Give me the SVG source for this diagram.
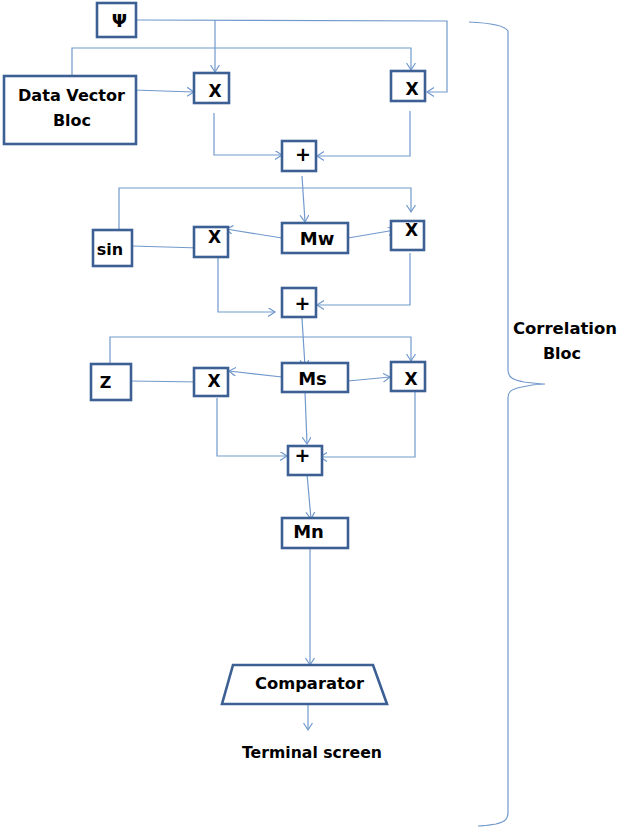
<svg xmlns="http://www.w3.org/2000/svg" width="617" height="828" viewBox="0 0 617 828">
<style>
.box{fill:#fff;stroke:#3c6094;stroke-width:2.6}
.t{font-family:"DejaVu Sans",Verdana,sans-serif;font-weight:bold;fill:#000;text-anchor:middle}
.c{fill:none;stroke:#7199cc;stroke-width:1.2}
.ca{fill:none;stroke:#7199cc;stroke-width:1.2;marker-end:url(#ah)}
</style>
<defs>
<marker id="ah" markerUnits="userSpaceOnUse" markerWidth="10" markerHeight="10" refX="7" refY="4.5" orient="auto">
<path d="M0,0 L7,4.5 L0,9" fill="none" stroke="#7199cc" stroke-width="1.2"/>
</marker>
</defs>
<g id="connectors">
<path class="ca" d="M136,20 L447,21 L447,92 L427,92"/>
<path class="ca" d="M215,20 L215,72"/>
<path class="ca" d="M72,76 L72,48 L411,48 L411,70"/>
<path class="ca" d="M133,90 L194,92"/>
<path class="ca" d="M214,113 L214,155 L282,155"/>
<path class="ca" d="M410,111 L410,156 L317,156"/>
<path class="ca" d="M302,176 L305,222"/>
<path class="ca" d="M119,230 L119,188 L411,188 L411,212"/>
<path class="ca" d="M132,246 L200,248"/>
<path class="ca" d="M282,238 L226,229"/>
<path class="ca" d="M348,238 L395,230"/>
<path class="ca" d="M218,252 L218,312 L275,312"/>
<path class="ca" d="M410,253 L410,305 L317,305"/>
<path class="ca" d="M302,318 L305,367"/>
<path class="ca" d="M110,364 L110,337 L411,337 L411,361"/>
<path class="ca" d="M131,381 L200,382"/>
<path class="ca" d="M282,377 L229,371"/>
<path class="ca" d="M348,381 L390,377"/>
<path class="ca" d="M305,392 L307,444"/>
<path class="ca" d="M217,398 L217,456 L287,456"/>
<path class="ca" d="M415,392 L415,457 L320,457"/>
<path class="ca" d="M307,474 L311,519"/>
<path class="ca" d="M310,548 L310,665"/>
<path class="ca" d="M308,705 L308,730"/>
</g>
<g id="psi"><rect class="box" x="97" y="3" width="39" height="34"/><text class="t" x="119.5" y="27" font-size="18">Ψ</text></g>
<g id="datavector"><rect class="box" x="4" y="76" width="132" height="68"/><text class="t" x="71.5" y="101" font-size="16" textLength="107" lengthAdjust="spacingAndGlyphs">Data Vector</text><text class="t" x="72" y="126" font-size="16">Bloc</text></g>
<g id="x1"><rect class="box" x="194" y="73" width="35" height="30"/><text class="t" x="215" y="97" font-size="17">X</text></g>
<g id="x2"><rect class="box" x="391" y="71" width="34" height="30"/><text class="t" x="412" y="95" font-size="17">X</text></g>
<g id="plus1"><rect class="box" x="282" y="141" width="34" height="30"/><text class="t" x="303" y="161" font-size="19">+</text></g>
<g id="sin"><rect class="box" x="93" y="230" width="39" height="36"/><text class="t" x="110" y="255" font-size="16">sin</text></g>
<g id="x3"><rect class="box" x="194" y="227" width="34" height="30"/><text class="t" x="214.5" y="243" font-size="17">X</text></g>
<g id="mw"><rect class="box" x="282" y="223" width="66" height="30"/><text class="t" x="317" y="244.5" font-size="18">Mw</text></g>
<g id="x4"><rect class="box" x="391" y="221" width="33" height="29"/><text class="t" x="411.5" y="236" font-size="17">X</text></g>
<g id="plus2"><rect class="box" x="282" y="288" width="34" height="29"/><text class="t" x="302.5" y="310" font-size="19">+</text></g>
<g id="z"><rect class="box" x="91" y="364" width="40" height="36"/><text class="t" x="105.5" y="388" font-size="16">Z</text></g>
<g id="x5"><rect class="box" x="194" y="368" width="34" height="28"/><text class="t" x="214" y="387" font-size="17">X</text></g>
<g id="ms"><rect class="box" x="282" y="363" width="66" height="29"/><text class="t" x="312.5" y="384.5" font-size="18">Ms</text></g>
<g id="x6"><rect class="box" x="391" y="362" width="34" height="29"/><text class="t" x="411" y="385" font-size="17">X</text></g>
<g id="plus3"><rect class="box" x="288" y="446" width="34" height="29"/><text class="t" x="302.5" y="462" font-size="19">+</text></g>
<g id="mn"><rect class="box" x="282" y="518" width="66" height="30"/><text class="t" x="308.5" y="537.5" font-size="18">Mn</text></g>
<g id="comparator"><polygon class="box" points="233,665 373,665 387,704 222,704"/><text class="t" x="309.5" y="689" font-size="16" textLength="109" lengthAdjust="spacingAndGlyphs">Comparator</text></g>
<g id="terminal"><text class="t" x="312" y="758" font-size="15" textLength="140" lengthAdjust="spacingAndGlyphs">Terminal screen</text></g>
<g id="correlation">
<path class="c" d="M469,22 C492,23 505,26 508,31 L508,370 C508,378 514,380 524,382 C534,383 540,384 545,384 C538,384 530,385 522,387 C512,389 508,391 508,398 L508,812 C508,820 504,822 496,824 C490,825 484,826 478,826"/>
<text class="t" x="565" y="334" font-size="16" textLength="104" lengthAdjust="spacingAndGlyphs">Correlation</text>
<text class="t" x="562" y="359" font-size="16">Bloc</text>
</g>
</svg>
